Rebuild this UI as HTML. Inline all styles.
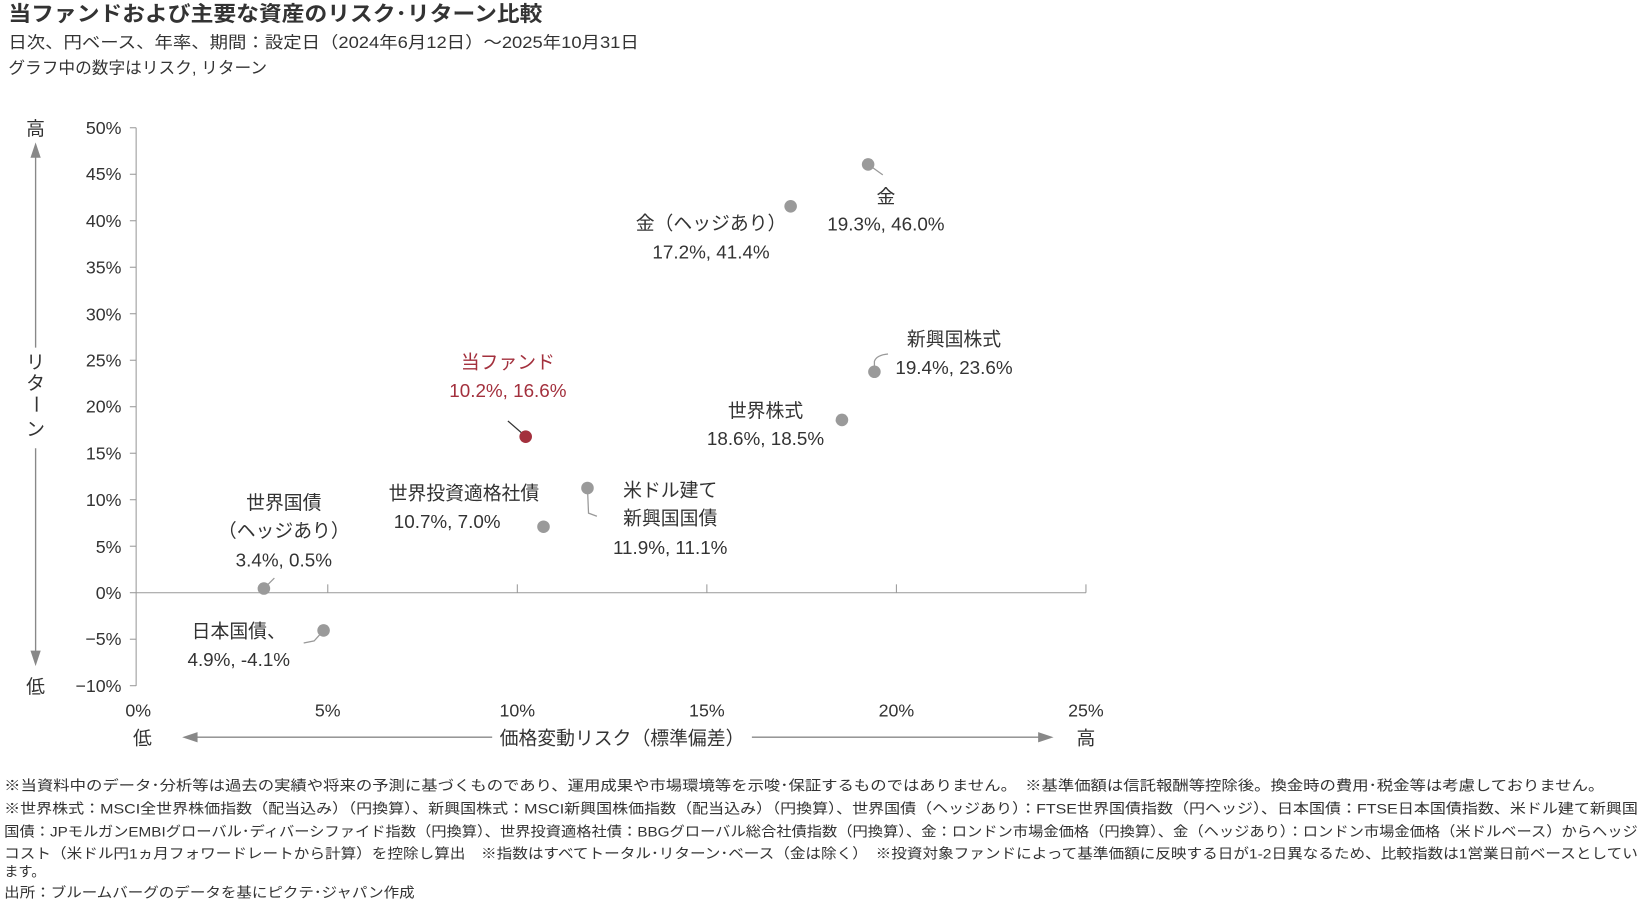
<!DOCTYPE html>
<html><head><meta charset="utf-8"><style>
html,body{margin:0;padding:0;background:#fff;}
svg{display:block;}
text{font-family:"Liberation Sans","Noto Sans CJK JP",sans-serif;fill:#333;}
</style></head><body>
<svg width="1642" height="906" viewBox="0 0 1642 906" xmlns="http://www.w3.org/2000/svg">
<g transform="scale(1.0472)">
<text x="8" y="20" font-size="20" font-weight="bold" fill="#333" textLength="510" lengthAdjust="spacingAndGlyphs">当ファンドおよび主要な資産のリスク･リターン比較</text>
<text x="8" y="46" font-size="15.5" textLength="602" lengthAdjust="spacingAndGlyphs">日次、円ベース、年率、期間：設定日（2024年6月12日）～2025年10月31日</text>
<text x="8" y="70" font-size="15.5" textLength="247" lengthAdjust="spacingAndGlyphs">グラフ中の数字はリスク, リターン</text>

<g stroke="#999" stroke-width="1" fill="none">
<line x1="130" y1="122" x2="130" y2="655"/>
<line x1="130" y1="566" x2="1037" y2="566"/>
<line x1="124" y1="122" x2="130" y2="122"/><line x1="124" y1="166.4" x2="130" y2="166.4"/>
<line x1="124" y1="210.8" x2="130" y2="210.8"/><line x1="124" y1="255.2" x2="130" y2="255.2"/>
<line x1="124" y1="299.6" x2="130" y2="299.6"/><line x1="124" y1="344" x2="130" y2="344"/>
<line x1="124" y1="388.4" x2="130" y2="388.4"/><line x1="124" y1="432.8" x2="130" y2="432.8"/>
<line x1="124" y1="477.2" x2="130" y2="477.2"/><line x1="124" y1="521.6" x2="130" y2="521.6"/>
<line x1="124" y1="566" x2="130" y2="566"/><line x1="124" y1="610.4" x2="130" y2="610.4"/>
<line x1="124" y1="654.8" x2="130" y2="654.8"/>
<line x1="313" y1="558" x2="313" y2="566"/><line x1="494" y1="558" x2="494" y2="566"/>
<line x1="675" y1="558" x2="675" y2="566"/><line x1="856" y1="558" x2="856" y2="566"/>
<line x1="1037" y1="558" x2="1037" y2="566"/>
</g>
<g font-size="17" text-anchor="end">
<text x="116" y="128">50%</text><text x="116" y="172">45%</text><text x="116" y="217">40%</text>
<text x="116" y="261">35%</text><text x="116" y="306">30%</text><text x="116" y="350">25%</text>
<text x="116" y="394">20%</text><text x="116" y="439">15%</text><text x="116" y="483">10%</text>
<text x="116" y="528">5%</text><text x="116" y="572">0%</text><text x="116" y="616">−5%</text>
<text x="116" y="661">−10%</text>
</g>
<g font-size="17" text-anchor="middle">
<text x="132" y="684">0%</text><text x="313" y="684">5%</text><text x="494" y="684">10%</text>
<text x="675" y="684">15%</text><text x="856" y="684">20%</text><text x="1037" y="684">25%</text>
</g>
<g font-size="18" text-anchor="middle">
<text x="34" y="129">高</text><text x="34" y="662">低</text>
<text x="136" y="711">低</text><text x="1037" y="711">高</text>
<text x="594" y="711">価格変動リスク（標準偏差）</text>
<text x="34" y="352">リ</text><text x="34" y="372">タ</text><text x="34" y="392" transform="rotate(90 34 386)">ー</text><text x="34" y="416">ン</text>
</g>
<g stroke="#888" stroke-width="1.3" fill="#888">
<line x1="34" y1="146" x2="34" y2="332"/><polygon points="30,150 38,150 34,138"/>
<line x1="34" y1="428" x2="34" y2="626"/><polygon points="30,622 38,622 34,634"/>
<line x1="184" y1="704" x2="470" y2="704"/><polygon points="188,700 188,708 176,704"/>
<line x1="718" y1="704" x2="996" y2="704"/><polygon points="992,700 992,708 1004,704"/>
</g>

<g stroke="#999" stroke-width="1.2" fill="none">
<path d="M829 157 L843 167"/>
<path d="M835 355 L835 345 Q837 339 848 338"/>
<path d="M804 401 L798 402"/>
<path d="M485 402 L500 415" stroke="#333"/>
<path d="M561 466 L562 490 L570 493"/>
<path d="M252 562 L262 552"/>
<path d="M309 602 L300 612 L290 614"/>
</g>
<g fill="#9a9a9a">
<circle cx="829" cy="157" r="6"/><circle cx="755" cy="197" r="6"/>
<circle cx="835" cy="355" r="6"/><circle cx="804" cy="401" r="6"/>
<circle cx="519" cy="503" r="6"/><circle cx="561" cy="466" r="6"/>
<circle cx="252" cy="562" r="6"/><circle cx="309" cy="602" r="6"/>
</g>
<circle cx="502" cy="417" r="6" fill="#a3303d"/>

<g font-size="18" text-anchor="middle">
<text x="846" y="194">金</text><text x="846" y="220">19.3%, 46.0%</text>
<text x="679" y="219">金（ヘッジあり）</text><text x="679" y="247">17.2%, 41.4%</text>
<text x="911" y="330">新興国株式</text><text x="911" y="357">19.4%, 23.6%</text>
<text x="731" y="398">世界株式</text><text x="731" y="425">18.6%, 18.5%</text>
<text x="485" y="352" style="fill:#a3303d">当ファンド</text><text x="485" y="379" style="fill:#a3303d">10.2%, 16.6%</text>
<text x="443" y="477">世界投資適格社債</text><text x="427" y="504">10.7%, 7.0%</text>
<text x="640" y="474">米ドル建て</text><text x="640" y="501">新興国国債</text><text x="640" y="529">11.9%, 11.1%</text>
<text x="271" y="486">世界国債</text><text x="271" y="513">（ヘッジあり）</text><text x="271" y="541">3.4%, 0.5%</text>
<text x="228" y="609">日本国債、</text><text x="228" y="636">4.9%, -4.1%</text>
</g>

<g font-size="13.6">
<text x="4" y="755" textLength="1528" lengthAdjust="spacingAndGlyphs">※当資料中のデータ･分析等は過去の実績や将来の予測に基づくものであり、運用成果や市場環境等を示唆･保証するものではありません。　※基準価額は信託報酬等控除後。換金時の費用･税金等は考慮しておりません。</text>
<text x="4" y="777" textLength="1560" lengthAdjust="spacingAndGlyphs">※世界株式：MSCI全世界株価指数（配当込み）（円換算）、新興国株式：MSCI新興国株価指数（配当込み）（円換算）、世界国債（ヘッジあり）：FTSE世界国債指数（円ヘッジ）、日本国債：FTSE日本国債指数、米ドル建て新興国</text>
<text x="4" y="799" textLength="1560" lengthAdjust="spacingAndGlyphs">国債：JPモルガンEMBIグローバル･ディバーシファイド指数（円換算）、世界投資適格社債：BBGグローバル総合社債指数（円換算）、金：ロンドン市場金価格（円換算）、金（ヘッジあり）：ロンドン市場金価格（米ドルベース）からヘッジ</text>
<text x="4" y="820" textLength="1560" lengthAdjust="spacingAndGlyphs">コスト（米ドル円1ヵ月フォワードレートから計算）を控除し算出　※指数はすべてトータル･リターン･ベース（金は除く）　※投資対象ファンドによって基準価額に反映する日が1-2日異なるため、比較指数は1営業日前ベースとしてい</text>
<text x="4" y="837">ます。</text>
<text x="4" y="857" textLength="392" lengthAdjust="spacingAndGlyphs">出所：ブルームバーグのデータを基にピクテ･ジャパン作成</text>
</g>
</g>
</svg>
</body></html>
